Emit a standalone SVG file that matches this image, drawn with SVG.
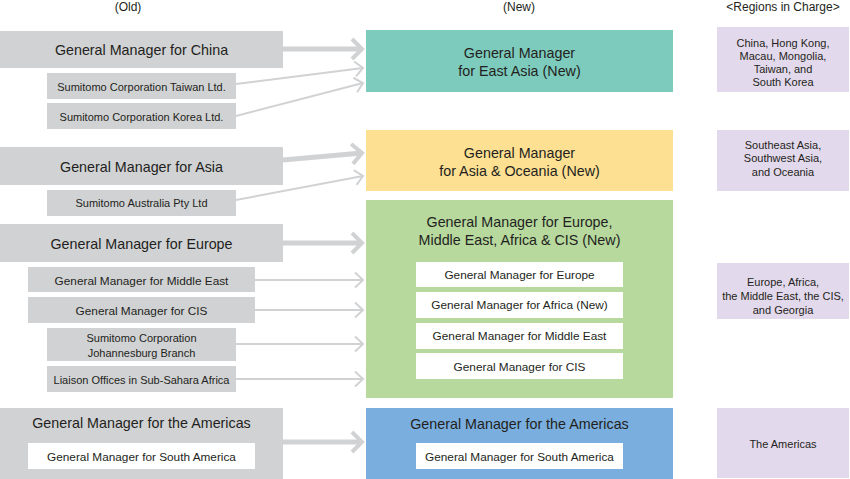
<svg xmlns="http://www.w3.org/2000/svg" width="850" height="479" viewBox="0 0 850 479">
<defs>
<style>
text{font-family:"Liberation Sans",Arial,Helvetica,sans-serif;fill:#231f20;text-anchor:middle}
.old{fill:#d1d2d4}
.wht{fill:#ffffff}
.reg{fill:#e3d9ec}
.t14{font-size:14.3px}
.t12{font-size:11.8px}
.t11{font-size:11px}
.hdr{font-size:12px}
.thick{stroke:#d1d2d4;stroke-width:5;fill:none;marker-end:url(#hk)}
.thin{stroke:#d1d2d4;stroke-width:2;fill:none;marker-end:url(#hs)}
</style>
<marker id="hk" markerUnits="userSpaceOnUse" orient="auto" refX="0" refY="0" markerWidth="30" markerHeight="30" viewBox="-15 -15 30 30" overflow="visible">
<path d="M-10,-10 L0,0 L-10,10" fill="none" stroke="#d1d2d4" stroke-width="4"/>
</marker>
<marker id="hs" markerUnits="userSpaceOnUse" orient="auto" refX="0" refY="0" markerWidth="30" markerHeight="30" viewBox="-15 -15 30 30" overflow="visible">
<path d="M-8,-7.5 L0,0 L-8,7.5" fill="none" stroke="#d1d2d4" stroke-width="2"/>
</marker>
</defs>
<rect width="850" height="479" fill="#ffffff"/>

<g id="headers">
<text class="hdr" x="128" y="11">(Old)</text>
<text class="hdr" x="519" y="11">(New)</text>
<text class="hdr" x="783" y="11">&lt;Regions in Charge&gt;</text>
</g>

<g id="connectors">
<path class="thick" d="M283,49 L362,49"/>
<path class="thin" d="M236,84 L363,68"/>
<path class="thin" d="M236,116 L363,83"/>
<path class="thick" d="M283,160 L362,153"/>
<path class="thin" d="M236,200 L363,176"/>
<path class="thick" d="M283,243 L362,243"/>
<path class="thin" d="M255,280 L363,280"/>
<path class="thin" d="M255,310 L363,310"/>
<path class="thin" d="M236,344 L363,344"/>
<path class="thin" d="M236,379 L363,379"/>
<path class="thick" d="M283,442 L362,442"/>
</g>

<g id="old-china"><rect class="old" x="0" y="31" width="283" height="37"/><text class="t14" x="141.5" y="55">General Manager for China</text></g>
<g id="old-taiwan"><rect class="old" x="47" y="73" width="189" height="26"/><text class="t11" x="141.5" y="91">Sumitomo Corporation Taiwan Ltd.</text></g>
<g id="old-korea"><rect class="old" x="47" y="103" width="189" height="26"/><text class="t11" x="141.5" y="121">Sumitomo Corporation Korea Ltd.</text></g>
<g id="old-asia"><rect class="old" x="0" y="147" width="283" height="38"/><text class="t14" x="141.5" y="172">General Manager for Asia</text></g>
<g id="old-australia"><rect class="old" x="47" y="190" width="189" height="26"/><text class="t11" x="141.5" y="207">Sumitomo Australia Pty Ltd</text></g>
<g id="old-europe"><rect class="old" x="0" y="224" width="283" height="38"/><text class="t14" x="141.5" y="249">General Manager for Europe</text></g>
<g id="old-middle-east"><rect class="old" x="28" y="267" width="227" height="25"/><text class="t12" x="141.5" y="285">General Manager for Middle East</text></g>
<g id="old-cis"><rect class="old" x="28" y="297" width="227" height="26"/><text class="t12" x="141.5" y="315">General Manager for CIS</text></g>
<g id="old-johannesburg"><rect class="old" x="47" y="328" width="189" height="33"/><text class="t11" x="141.5" y="342">Sumitomo Corporation</text><text class="t11" x="141.5" y="357">Johannesburg Branch</text></g>
<g id="old-liaison"><rect class="old" x="47" y="366" width="189" height="26"/><text class="t11" x="141.5" y="384">Liaison Offices in Sub-Sahara Africa</text></g>
<g id="old-americas"><rect class="old" x="0" y="408" width="283" height="71"/><text class="t14" x="141.5" y="428">General Manager for the Americas</text>
<rect class="wht" x="28" y="443" width="227" height="26"/><text class="t12" x="141.5" y="461">General Manager for South America</text></g>

<g id="new-east-asia"><rect x="366" y="30" width="307" height="62" fill="#7dcbbd"/><text class="t14" x="519.5" y="58">General Manager</text><text class="t14" x="519.5" y="76">for East Asia (New)</text></g>
<g id="new-asia-oceania"><rect x="366" y="130" width="307" height="61" fill="#fde092"/><text class="t14" x="519.5" y="158">General Manager</text><text class="t14" x="519.5" y="176">for Asia &amp; Oceania (New)</text></g>
<g id="new-emea"><rect x="366" y="200" width="307" height="198" fill="#b7d99e"/><text class="t14" x="519.5" y="227">General Manager for Europe,</text><text class="t14" x="519.5" y="245">Middle East, Africa &amp; CIS (New)</text>
<rect class="wht" x="416" y="262" width="207" height="25"/><text class="t12" x="519.5" y="279">General Manager for Europe</text>
<rect class="wht" x="416" y="292" width="207" height="26"/><text class="t12" x="519.5" y="309">General Manager for Africa (New)</text>
<rect class="wht" x="416" y="323" width="207" height="26"/><text class="t12" x="519.5" y="340">General Manager for Middle East</text>
<rect class="wht" x="416" y="353" width="207" height="26"/><text class="t12" x="519.5" y="371">General Manager for CIS</text></g>
<g id="new-americas"><rect x="366" y="408" width="307" height="71" fill="#7aaede"/><text class="t14" x="519.5" y="429">General Manager for the Americas</text>
<rect class="wht" x="416" y="443" width="207" height="26"/><text class="t12" x="519.5" y="461">General Manager for South America</text></g>

<g id="region-east-asia"><rect class="reg" x="717" y="27" width="132" height="65"/><text class="t11" x="783" y="47">China, Hong Kong,</text><text class="t11" x="783" y="60">Macau, Mongolia,</text><text class="t11" x="783" y="73">Taiwan, and</text><text class="t11" x="783" y="86">South Korea</text></g>
<g id="region-asia-oceania"><rect class="reg" x="717" y="130" width="132" height="61"/><text class="t11" x="783" y="148.5">Southeast Asia,</text><text class="t11" x="783" y="162">Southwest Asia,</text><text class="t11" x="783" y="175.5">and Oceania</text></g>
<g id="region-emea"><rect class="reg" x="717" y="263" width="132" height="56"/><text class="t11" x="783" y="286">Europe, Africa,</text><text class="t11" x="783" y="300">the Middle East, the CIS,</text><text class="t11" x="783" y="314">and Georgia</text></g>
<g id="region-americas"><rect class="reg" x="717" y="408" width="132" height="70"/><text class="t11" x="783" y="448">The Americas</text></g>
</svg>
